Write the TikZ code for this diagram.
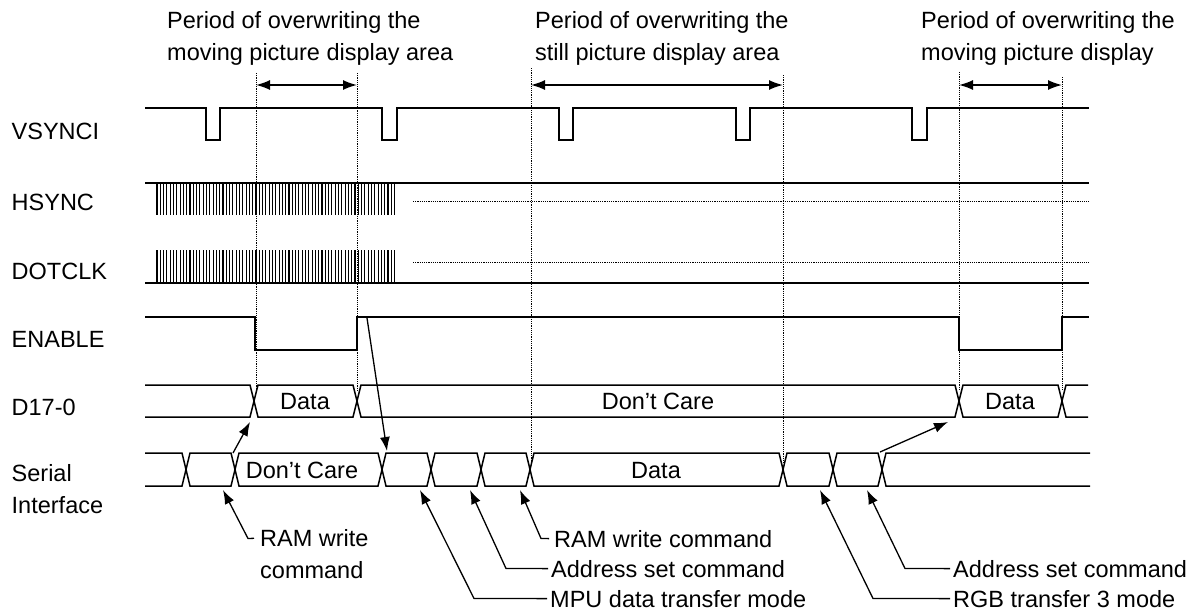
\documentclass[tikz,border=0pt]{standalone}
\usepackage{fontspec}
\setmainfont{Liberation Sans}
\usetikzlibrary{arrows.meta}

\begin{document}
\begin{tikzpicture}[x=1pt,y=-1pt,
  sig/.style={line width=1.7pt, line join=miter},
  bus/.style={line width=1.5pt, line join=miter},
  guide/.style={line width=0.9pt, dash pattern=on 1.1pt off 1.1pt},
  clk/.style={line width=1.15pt},
  pointer/.style={line width=1.3pt, -{Latex[length=14pt,width=10pt]}},
  span/.style={line width=1.6pt, {Latex[length=14pt,width=10pt]}-{Latex[length=14pt,width=10pt]}},
  txt/.style={font=\fontsize{23.5}{32}\selectfont, inner sep=0pt},
]
\useasboundingbox (0,0) rectangle (1198,614);

% ---------- headings ----------
\node[txt, anchor=base west] (h1a) at (167,28.5) {Period of overwriting the};
\node[txt, anchor=base west] (h1b) at (167,60.5) {moving picture display area};
\node[txt, anchor=base west] (h2a) at (535,28.5) {Period of overwriting the};
\node[txt, anchor=base west] (h2b) at (535,60.5) {still picture display area};
\node[txt, anchor=base west] (h3a) at (921,28.5) {Period of overwriting the};
\node[txt, anchor=base west] (h3b) at (921,60.5) {moving picture display};

% ---------- signal names ----------
\node[txt, anchor=base west] (nV) at (11.5,139) {VSYNCI};
\node[txt, anchor=base west] (nH) at (11.5,210.7) {HSYNC};
\node[txt, anchor=base west] (nD) at (11.5,279.5) {DOTCLK};
\node[txt, anchor=base west] (nE) at (11.5,347.7) {ENABLE};
\node[txt, anchor=base west] (nB) at (11.5,415) {D17-0};
\node[txt, anchor=base west] (nS1) at (11.5,481.7) {Serial};
\node[txt, anchor=base west] (nS2) at (11.5,513.3) {Interface};

% ---------- guide lines ----------
\coordinate (g1t) at (256,73);   \coordinate (g1b) at (256,390);
\coordinate (g2t) at (357,73);   \coordinate (g2b) at (357,390);
\coordinate (g3t) at (531,68);   \coordinate (g3b) at (531,463);
\coordinate (g4t) at (783,75);   \coordinate (g4b) at (783,463);
\coordinate (g5t) at (959,72);   \coordinate (g5b) at (959,390);
\coordinate (g6t) at (1062,77);  \coordinate (g6b) at (1062,390);
\foreach \n in {1,...,6} \draw[guide] (g\n t) -- (g\n b);

% period spans
\coordinate (p1l) at (256,85);  \coordinate (p1r) at (357,85);
\coordinate (p2l) at (531,85);  \coordinate (p2r) at (783,85);
\coordinate (p3l) at (959,85);  \coordinate (p3r) at (1062,85);
\draw[span] (p1l) -- (p1r);
\draw[span] (p2l) -- (p2r);
\draw[span] (p3l) -- (p3r);

% ---------- VSYNCI ----------
\draw[sig] (145,108)
  \foreach \a/\b in {206/220,382/397,559/573,736/750,912/927}
    { -- (\a,108) -- (\a,140) -- (\b,140) -- (\b,108) }
  -- (1089,108);

% ---------- HSYNC / DOTCLK ----------
\draw[sig] (145,183) -- (1089,183);
\draw[sig] (145,283) -- (1089,283);
\foreach \i in {0,...,72} {
  \draw[clk] (157+\i*3.3,183) -- ++(0,32);
  \draw[clk] (157+\i*3.3,250) -- ++(0,33);
}
\draw[guide] (413,201) -- (1089,201);
\draw[guide] (413,262) -- (1089,262);

% ---------- ENABLE ----------
\draw[sig] (145,317) -- (255,317) -- (255,350) -- (357,350) -- (357,317)
  -- (959,317) -- (959,350) -- (1062,350) -- (1062,317) -- (1089,317);

% ---------- D17-0 bus (top 385, bottom 417) ----------
\draw[bus] (145,385) -- (250,385) -- (254,401) -- (250,417) -- (145,417);
\foreach \a/\b in {254/357,357/959,959/1062}
  \draw[bus] (\a,401) -- (\a+4,385) -- (\b-4,385) -- (\b,401)
             -- (\b-4,417) -- (\a+4,417) -- cycle;
\draw[bus] (1088,385) -- (1066,385) -- (1062,401) -- (1066,417) -- (1088,417);
\node[txt, anchor=base] (bd1) at (305,409.5) {Data};
\node[txt, anchor=base] (bdc) at (658,409.5) {Don’t Care};
\node[txt, anchor=base] (bd2) at (1010,409.5) {Data};

% ---------- Serial interface bus (top 453, bottom 486) ----------
\draw[bus] (145,453) -- (182,453) -- (186,469.5) -- (182,486) -- (145,486);
\foreach \a/\b in {186/235,235/382,382/431,431/481,481/530,530/783,783/833,833/882}
  \draw[bus] (\a,469.5) -- (\a+4,453) -- (\b-4,453) -- (\b,469.5)
             -- (\b-4,486) -- (\a+4,486) -- cycle;
\draw[bus] (1090,453) -- (886,453) -- (882,469.5) -- (886,486) -- (1090,486);
\node[txt, anchor=base] (sdc) at (302,478) {Don’t Care};
\node[txt, anchor=base] (sd) at (656,478) {Data};

% ---------- cause/effect arrows ----------
\coordinate (enR) at (367,318);  \coordinate (enT) at (387,451);
\coordinate (sL)  at (233,453);  \coordinate (dL)  at (250,422);
\coordinate (sR)  at (880,452);  \coordinate (dR)  at (948,422);
\draw[pointer] (enR) -- (enT);
\draw[pointer] (sL) -- (dL);
\draw[pointer] (sR) -- (dR);

% ---------- command annotations ----------
\node[txt, anchor=base west] (ram1a) at (260,546.7) {RAM write};
\node[txt, anchor=base west] (ram1b) at (260,578.7) {command};
\coordinate (ram1k) at (248,538.5);
\coordinate (ram1t) at (223,490);
\draw[pointer] ([xshift=-6pt]ram1a.west) -- (ram1k) -- (ram1t);

\node[txt, anchor=base west] (ram2) at (554,547) {RAM write command};
\node[txt, anchor=base west] (adr1) at (551,577) {Address set command};
\node[txt, anchor=base west] (mpu)  at (550,607) {MPU data transfer mode};
\node[txt, anchor=base west] (adr2) at (953,577) {Address set command};
\node[txt, anchor=base west] (rgb)  at (953,607) {RGB transfer 3 mode};

\coordinate (ram2t) at (520,490); \coordinate (ram2k) at (541,538.5);
\coordinate (adr1t) at (470,490); \coordinate (adr1k) at (506,568.5);
\coordinate (mput)  at (420,490); \coordinate (mpuk)  at (474,598.5);
\coordinate (adr2t) at (867,490); \coordinate (adr2k) at (905,568.5);
\coordinate (rgbt)  at (820,490); \coordinate (rgbk)  at (873,598.5);

\draw[pointer] ([xshift=-5pt]ram2.west) -- (ram2k) -- (ram2t);
\draw[pointer] ([xshift=-3pt]adr1.west) -- (adr1k) -- (adr1t);
\draw[pointer] ([xshift=-3pt]mpu.west)  -- (mpuk)  -- (mput);
\draw[pointer] ([xshift=-3pt]adr2.west) -- (adr2k) -- (adr2t);
\draw[pointer] ([xshift=-3pt]rgb.west)  -- (rgbk)  -- (rgbt);
\end{tikzpicture}
\end{document}
